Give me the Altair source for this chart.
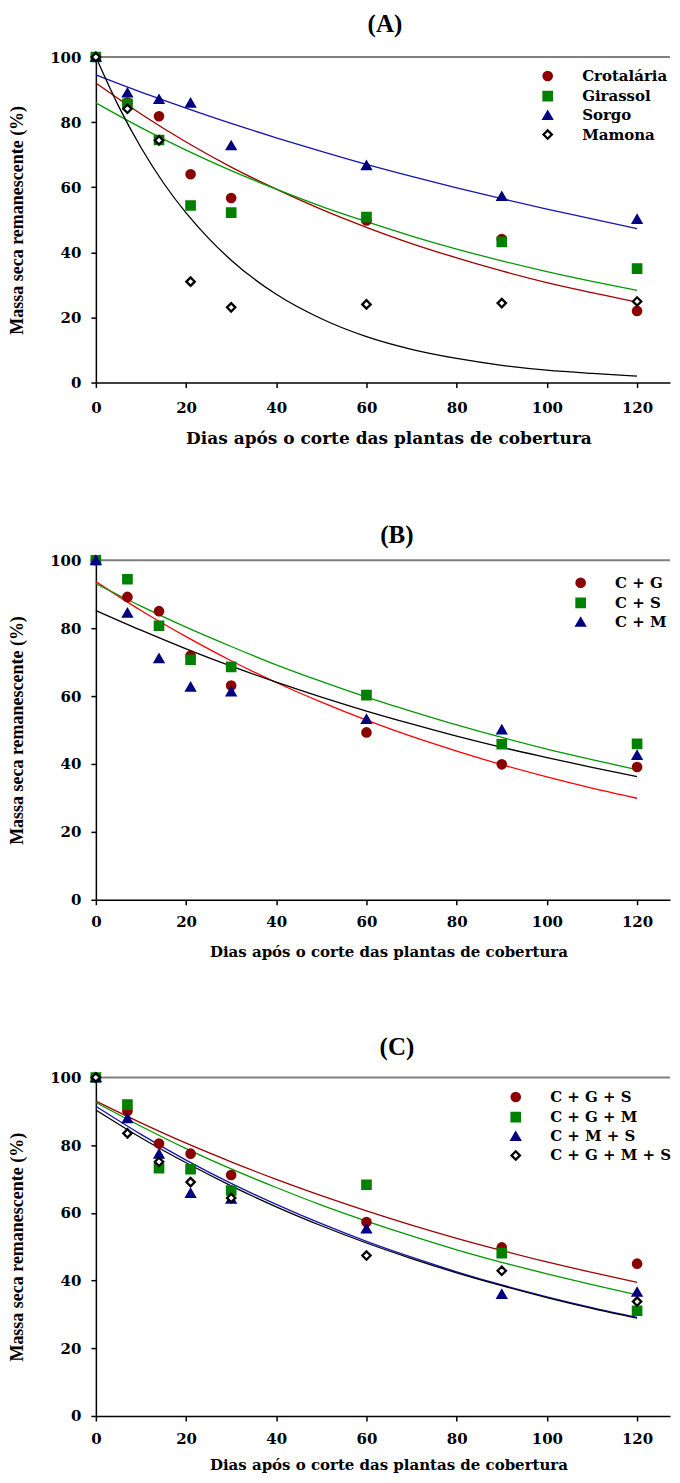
import altair as alt
import pandas as pd

# ---------------- data ----------------
dias = [0, 7, 14, 21, 30, 60, 90, 120]
curva_dias = [0, 10, 20, 30, 40, 50, 60, 70, 80, 90, 100, 110, 120]
curva_dias_fina = [0, 5, 10, 15, 20, 25, 30, 40, 50, 60, 70, 80, 90, 100, 110, 120]
ticks_x = [0, 20, 40, 60, 80, 100, 120]
ticks_y = [0, 20, 40, 60, 80, 100]

# (A)
a_series = ["Crotalária", "Girassol", "Sorgo", "Mamona"]
a_crotalaria = [100, 86.0, 81.8, 64.0, 56.7, 49.8, 44.1, 22.0]
a_girassol = [100, 85.6, 74.5, 54.4, 52.2, 50.8, 43.2, 35.0]
a_sorgo = [100, 89.0, 87.0, 85.9, 72.8, 66.7, 57.2, 50.2]
a_mamona = [100, 84.1, 74.4, 31.0, 23.1, 24.0, 24.4, 24.9]
a_crotalaria_curva = [92.0, 82.5, 73.9, 66.2, 59.4, 53.2, 47.7, 42.7, 38.3, 34.3, 30.7, 27.6, 24.7]
a_girassol_curva = [85.9, 78.3, 71.4, 65.1, 59.4, 54.1, 49.4, 45.0, 41.0, 37.4, 34.1, 31.1, 28.3]
a_sorgo_curva = [94.5, 89.2, 84.3, 79.6, 75.2, 71.0, 67.0, 63.3, 59.8, 56.5, 53.3, 50.3, 47.3]
a_mamona_curva = [100, 85.0, 72.2, 61.3, 52.1, 44.3, 37.6, 27.1, 19.6, 14.1, 10.2, 7.4, 5.3, 3.8, 2.8, 2.0]

# (B)
b_series = ["C + G", "C + S", "C + M"]
b_cg = [100, 89.2, 85.0, 71.9, 63.1, 49.3, 39.9, 39.1]
b_cs = [100, 94.4, 80.7, 70.7, 68.6, 60.3, 45.8, 45.9]
b_cm = [100, 84.5, 71.1, 62.7, 61.3, 53.2, 50.1, 42.6]
b_cg_curva = [93.7, 85.2, 77.5, 70.4, 64.0, 58.2, 52.9, 48.1, 43.8, 39.8, 36.2, 32.9, 29.9]
b_cs_curva = [93.1, 86.5, 80.3, 74.6, 69.2, 64.3, 59.7, 55.5, 51.5, 47.8, 44.4, 41.3, 38.3]
b_cm_curva = [85.2, 79.4, 73.9, 68.8, 64.1, 59.7, 55.6, 51.8, 48.2, 44.9, 41.9, 39.0, 36.3]

# (C)
c_series = ["C + G + S", "C + G + M", "C + M + S", "C + G + M + S"]
c_cgs = [100, 90.1, 80.5, 77.5, 71.2, 57.3, 49.8, 45.0]
c_cgm = [100, 92.0, 73.2, 72.9, 66.6, 68.3, 48.1, 31.1]
c_cms = [100, 87.9, 77.4, 65.8, 64.1, 55.3, 36.0, 36.6]
c_cgms = [100, 83.5, 75.1, 69.1, 64.4, 47.4, 42.9, 33.8]
c_cgs_curva = [93.0, 86.6, 80.6, 75.1, 69.9, 65.1, 60.6, 56.4, 52.5, 48.9, 45.5, 42.4, 39.5]
c_cgm_curva = [92.6, 85.6, 79.0, 73.0, 67.5, 62.3, 57.6, 53.2, 49.1, 45.4, 42.0, 38.8, 35.8]
c_cms_curva = [91.5, 83.2, 75.6, 68.7, 62.5, 56.8, 51.6, 46.9, 42.6, 38.7, 35.2, 32.0, 29.1]
c_cgms_curva = [90.4, 82.2, 74.8, 68.0, 61.8, 56.2, 51.1, 46.5, 42.3, 38.5, 35.0, 31.8, 28.9]

topo = [100]

# ---------------- styles ----------------
W = 575
XMAX = 127.3
SERIF = "Liberation Serif"
WIDE = "DejaVu Serif"

RED_D = "#8B0000"
GREEN = "#008000"
NAVY = "#000080"
shapes4 = ["circle", "square", "triangle-up", "diamond"]
fill4 = [RED_D, GREEN, NAVY, "#FFFFFF"]
stroke4 = [RED_D, GREEN, NAVY, "#000000"]


def panel(title, title_offset, title_dx, series, pts, curves, curve_xs, line_colors,
          height, leg_x, leg_y, leg_off, xt_size, x_lpad, x_tpad):
    rows = []
    for name, vals in zip(series, pts):
        for d, v in zip(dias, vals):
            rows.append({"dias": d, "valor": v, "serie": name})
    df_pts = pd.DataFrame(rows)

    xs = alt.Scale(domain=[0, XMAX], nice=False, zero=False)
    ys = alt.Scale(domain=[0, 100], nice=False)
    xaxis = alt.Axis(values=ticks_x, title="Dias após o corte das plantas de cobertura",
                     titleFont=WIDE, titleFontSize=xt_size, titleFontWeight="bold",
                     labelPadding=x_lpad, titlePadding=x_tpad, labelFlush=False,
                     titleX=293)
    yaxis = alt.Axis(values=ticks_y, title="Massa seca remanescente (%)",
                     titleFont=SERIF, titleFontSize=18, titleFontWeight="bold",
                     labelPadding=10, titlePadding=23)
    X = alt.X("dias:Q", scale=xs, axis=xaxis)
    Y = alt.Y("valor:Q", scale=ys, axis=yaxis)

    n = len(series)
    leg = alt.Legend(orient="none", legendX=leg_x, legendY=leg_y, labelFont=WIDE,
                     labelFontSize=15, labelFontWeight="bold", labelColor="black",
                     symbolSize=70, symbolStrokeWidth=2.3, rowPadding=1.2,
                     labelOffset=leg_off)

    layers = []
    frame = alt.Chart(pd.DataFrame({"topo": topo})).mark_rule(
        color="#7f7f7f", strokeWidth=2).encode(
        y=alt.Y("topo:Q", scale=ys, axis=yaxis),
        x=alt.datum(0, scale=xs, axis=xaxis), x2=alt.datum(XMAX))
    layers.append(frame)
    for cx, cv, col in zip(curve_xs, curves, line_colors):
        dfc = pd.DataFrame({"dias": cx, "valor": cv})
        layers.append(alt.Chart(dfc).mark_line(color=col, strokeWidth=1.3,
                                               interpolate="monotone").encode(x=X, y=Y))
    pts_layer = alt.Chart(df_pts).mark_point(filled=True, size=70, strokeWidth=2.3,
                                             opacity=1).encode(
        x=X, y=Y,
        shape=alt.Shape("serie:N", scale=alt.Scale(domain=series, range=shapes4[:n]),
                        legend=leg, title=None),
        fill=alt.Fill("serie:N", scale=alt.Scale(domain=series, range=fill4[:n]),
                      legend=leg, title=None),
        stroke=alt.Stroke("serie:N", scale=alt.Scale(domain=series, range=stroke4[:n]),
                          legend=leg, title=None),
    )
    layers.append(pts_layer)
    return alt.layer(*layers).properties(
        width=W, height=height,
        title=alt.TitleParams(title, offset=title_offset, dx=title_dx))


A = panel("(A)", 11, 2, a_series,
          [a_crotalaria, a_girassol, a_sorgo, a_mamona],
          [a_crotalaria_curva, a_girassol_curva, a_sorgo_curva, a_mamona_curva],
          [curva_dias, curva_dias, curva_dias, curva_dias_fina],
          ["#A00000", "#009900", "#1515B0", "#000000"],
          326, 445, 11.5, 27, 17, 13, 15)

B = panel("(B)", 4, 14, b_series,
          [b_cg, b_cs, b_cm],
          [b_cg_curva, b_cs_curva, b_cm_curva],
          [curva_dias, curva_dias, curva_dias],
          ["#FF0000", "#009900", "#000000"],
          340, 478, 15, 27, 15, 10, 15)

C = panel("(C)", 9, 14, c_series,
          [c_cgs, c_cgm, c_cms, c_cgms],
          [c_cgs_curva, c_cgm_curva, c_cms_curva, c_cgms_curva],
          [curva_dias, curva_dias, curva_dias, curva_dias],
          ["#A00000", "#009900", "#1515B0", "#000000"],
          339, 413, 12, 27, 15, 11, 11)

chart = alt.vconcat(A, B, C, spacing=178, bounds="flush").resolve_scale(
    shape="independent", fill="independent", stroke="independent",
    x="independent", y="independent"
).properties(
    padding={"left": 0, "top": 3, "right": 0, "bottom": 0}
).configure_view(stroke=None).configure_axis(
    domainColor="black", domainWidth=1.5, tickColor="black", tickWidth=1.5, tickSize=5,
    labelFont=WIDE, labelFontWeight="bold", labelFontSize=15, labelColor="black",
    titleColor="black", grid=False
).configure_title(
    font=SERIF, fontSize=25, fontWeight="bold", color="black", anchor="middle"
)

chart.save("out.html", embed_options={"renderer": "svg", "actions": False})
